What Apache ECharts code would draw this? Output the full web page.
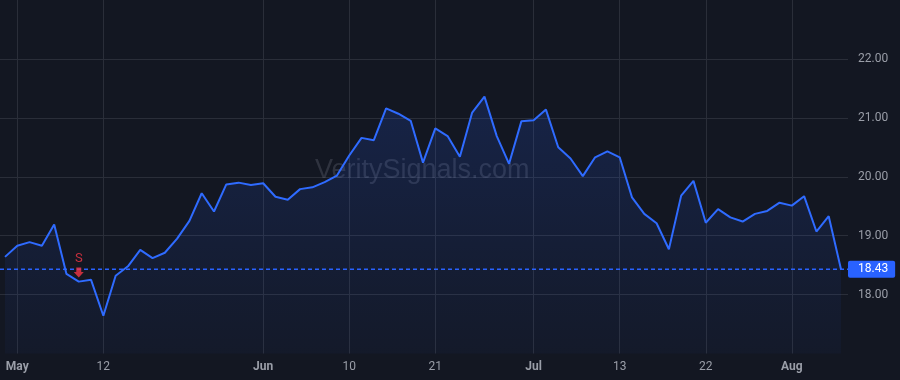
<!DOCTYPE html>
<html>
<head>
<meta charset="utf-8">
<script src="https://cdn.jsdelivr.net/npm/echarts@6/dist/echarts.min.js"></script>
<style>
html,body{margin:0;padding:0;background:#131722;}
#c{width:900px;height:380px;}
</style>
</head>
<body>
<div id="c"></div>
<script>
// ---- data ----
const values = [18.64,18.83,18.89,18.83,19.19,18.35,18.22,18.25,17.64,18.32,
  18.48,18.76,18.62,18.71,18.95,19.25,19.72,19.41,19.87,19.90,
  19.86,19.89,19.66,19.61,19.79,19.82,19.91,20.02,20.36,20.66,
  20.62,21.16,21.07,20.95,20.24,20.82,20.69,20.34,21.09,21.36,
  20.69,20.22,20.94,20.96,21.14,20.50,20.31,20.01,20.33,20.43,
  20.33,19.65,19.37,19.21,18.77,19.68,19.93,19.22,19.45,19.31,
  19.24,19.37,19.42,19.56,19.51,19.67,19.07,19.33,18.43];
const tickIndex = [1, 8, 21, 28, 35, 43, 50, 57, 64];
const tickText = ['May', '12', 'Jun', '10', '21', 'Jul', '13', '22', 'Aug'];
const monthTicks = ['May', 'Jun', 'Jul', 'Aug'];
const yTicks = [18, 19, 20, 21, 22];
const signalIndex = 6;
const signalText = 'S';
const watermark = 'VeritySignals.com';

const categories = values.map((v, i) => String(i));
const last = values[values.length - 1];

const bg = '#131722';
const gridColor = '#2a2e39';
const blue = '#2962ff';
const lineBlue = '#2f6bff';
const labelColor = '#9a9ea8';
const red = '#f23645';
const font = 'Roboto, "Liberation Sans", sans-serif';

const chart = echarts.init(document.getElementById('c'), null, {renderer: 'canvas'});
const yMin = 17, yMax = 23;
const splitColors = [];
for (let v = yMin; v <= yMax; v++) splitColors.push(yTicks.includes(v) ? gridColor : 'rgba(0,0,0,0)');

chart.setOption({
  backgroundColor: bg,
  animation: false,
  textStyle: {fontFamily: font},
  graphic: [{
    type: 'text',
    left: 424 - 109,
    top: 173 - 16,
    z: 1,
    style: {
      text: watermark,
      font: '27px "Liberation Sans", Arial, sans-serif',
      fill: 'rgba(160,166,182,0.2)'
    }
  }],
  grid: [
    {left: 5, right: 59, top: -4.5, bottom: 26.5},
    {left: 0, right: 52, top: -4.5, bottom: 26.5}
  ],
  xAxis: [
    {
      type: 'category', gridIndex: 0, data: categories, boundaryGap: false,
      axisLine: {show: false}, axisTick: {show: false},
      splitLine: {show: true, interval: (i) => tickIndex.includes(i), lineStyle: {color: gridColor, width: 1}},
      axisLabel: {
        interval: (i) => tickIndex.includes(i),
        margin: 7,
        color: labelColor, fontSize: 12, fontFamily: font,
        formatter: (v, i) => {
          const k = tickIndex.indexOf(Number(v));
          if (k < 0) return '';
          const t = tickText[k];
          return monthTicks.includes(t) ? '{m|' + t + '}' : t;
        },
        rich: {m: {fontWeight: 'bold', color: labelColor, fontSize: 12, fontFamily: font}}
      }
    },
    {type: 'value', gridIndex: 1, min: 0, max: 1, show: false}
  ],
  yAxis: [
    {type: 'value', gridIndex: 0, min: yMin, max: yMax, interval: 1, show: false, splitLine: {show: false}},
    {
      type: 'value', gridIndex: 1, min: yMin, max: yMax, interval: 1, position: 'right',
      axisLine: {show: false}, axisTick: {show: false},
      splitLine: {show: true, lineStyle: {color: splitColors, width: 1}},
      axisLabel: {
        margin: 10, color: labelColor, fontSize: 12, fontFamily: font,
        formatter: (v) => yTicks.includes(v) ? v.toFixed(2) : ''
      }
    }
  ],
  series: [
    {
      type: 'line', xAxisIndex: 1, yAxisIndex: 1, data: [[0, last], [1, last]],
      symbol: 'none', silent: true, z: 3,
      lineStyle: {color: blue, width: 1.5, type: [4, 3]},
      markPoint: {
        symbol: 'rect', symbolSize: 0,
        data: [{coord: [1, last]}],
        label: {
          show: true, position: 'right', distance: 0,
          formatter: () => last.toFixed(2),
          backgroundColor: blue, color: '#ffffff', fontSize: 12, fontFamily: font,
          padding: [2, 7, 2, 10], borderRadius: 2, lineHeight: 13
        }
      }
    },
    {
      type: 'line', xAxisIndex: 0, yAxisIndex: 0, data: values,
      symbol: 'none', z: 4,
      lineStyle: {color: lineBlue, width: 2},
      areaStyle: {
        color: new echarts.graphic.LinearGradient(0, 0, 0, 1, [
          {offset: 0, color: 'rgba(41,98,255,0.24)'},
          {offset: 1, color: 'rgba(41,98,255,0.05)'}
        ])
      }
    },
    {
      type: 'scatter', xAxisIndex: 0, yAxisIndex: 0,
      data: [[signalIndex, values[signalIndex]]],
      symbol: 'path://M2.5,0 L7.5,0 L7.5,4.5 L10,4.5 L5,10 L0,4.5 L2.5,4.5 Z',
      symbolSize: [10, 10], symbolOffset: [0, -9], z: 5,
      itemStyle: {color: red},
      label: {show: true, position: 'top', distance: 2, formatter: signalText, color: red, fontSize: 13, fontFamily: font}
    }
  ]
});
</script>
</body>
</html>
